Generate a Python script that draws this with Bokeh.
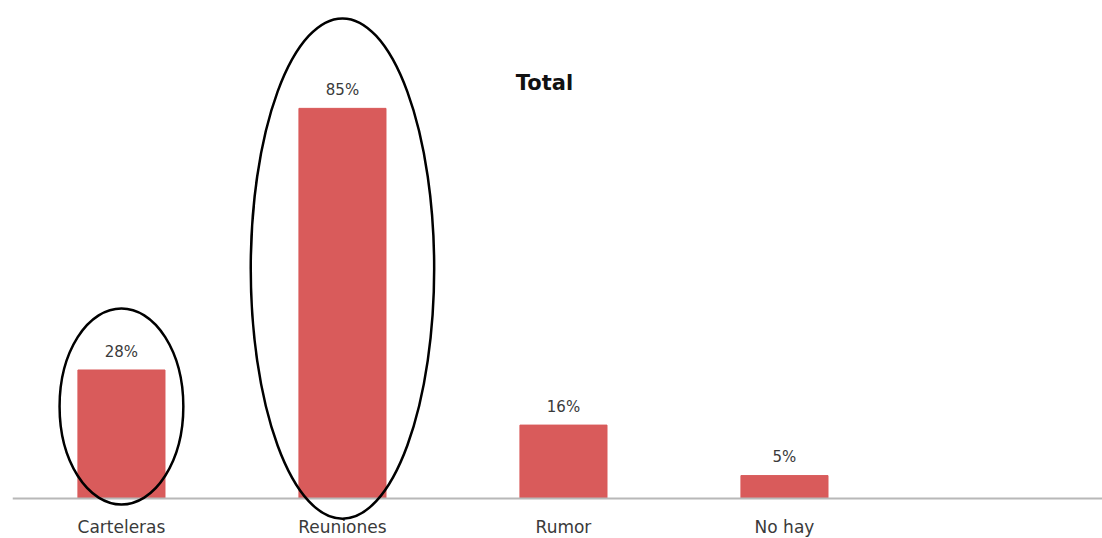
from bokeh.plotting import figure
from bokeh.models import ColumnDataSource, Range1d, Label
from bokeh.core.properties import value
from bokeh.embed import file_html
from bokeh.resources import INLINE

categories = ["Carteleras", "Reuniones", "Rumor", "No hay"]
values = [28, 85, 16, 5]
labels = ["28%", "85%", "16%", "5%"]

# highlighted categories (index), with vertical extent of the ellipse in data units
ell_index = [0, 1]
ell_top = [41.4, 104.6]
ell_bottom = [-1.3, -4.4]
ell_width = [0.56, 0.83]

FONT = "DejaVu Sans"
BAR = "#d95b5b"
TXT = "#3a3a3a"

xs = list(range(len(categories)))
src = ColumnDataSource(dict(x=xs, top=values, lab=labels, cat=categories,
                            laby=[v + 2.0 for v in values]))

p = figure(width=1102, height=538, output_backend="svg", toolbar_location=None,
           x_range=Range1d(-0.493, 4.439), y_range=Range1d(-8.71, 108.5),
           min_border_left=12, min_border_right=0, min_border_top=0, min_border_bottom=0)
p.axis.visible = False
p.grid.visible = False
p.outline_line_color = None
p.background_fill_color = "white"

p.vbar(x="x", top="top", bottom=0, width=0.394, color=BAR, source=src)

# baseline
p.segment(x0=[-0.493], y0=[0], x1=[4.439], y1=[0], line_color="#b8b8b8", line_width=2)

p.text(x="x", y="laby", text="lab", source=src, text_align="center", text_baseline="bottom",
       text_font=value(FONT), text_font_size="15px", text_color=TXT)
p.text(x="x", y=-8.71 + 0.3, text="cat", source=src, text_align="center", text_baseline="bottom",
       text_font=value(FONT), text_font_size="17px", text_color=TXT)

ex = ell_index
ey = [(t + b) / 2 for t, b in zip(ell_top, ell_bottom)]
eh = [t - b for t, b in zip(ell_top, ell_bottom)]
p.ellipse(x=ex, y=ey, width=ell_width, height=eh, fill_color=None,
          line_color="black", line_width=2.5)

title = Label(x=532, y=538 - 82, x_units="screen", y_units="screen", text="Total",
              text_font=FONT, text_font_size="21px", text_font_style="bold",
              text_color="#111111", text_align="center", text_baseline="middle")
p.add_layout(title)

open("out.html", "w").write(file_html(p, INLINE))
